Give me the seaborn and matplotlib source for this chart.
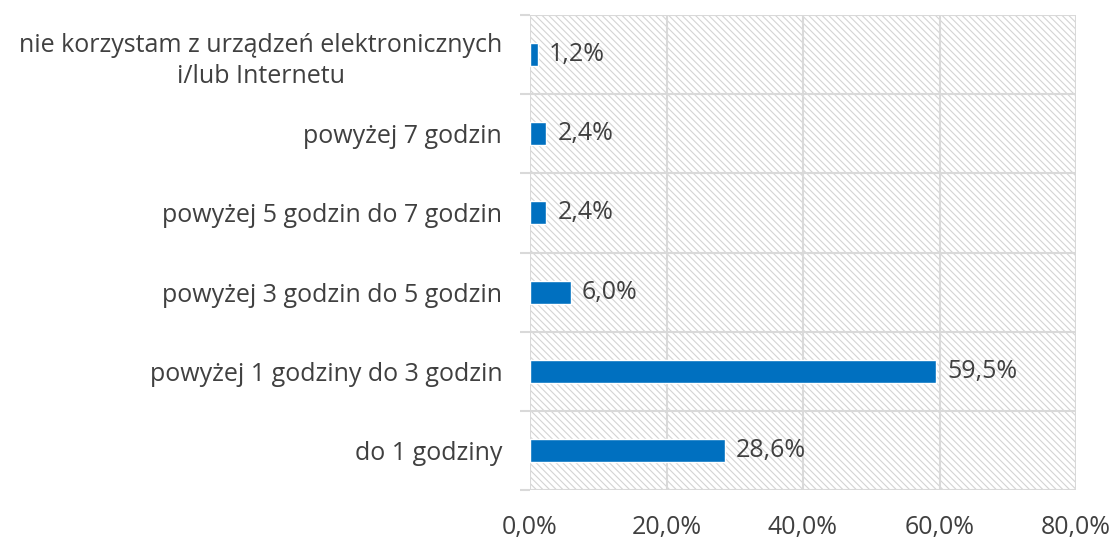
import matplotlib
matplotlib.use("Agg")
import matplotlib.pyplot as plt
import seaborn as sns
import pandas as pd
from matplotlib.patches import Rectangle
from matplotlib.ticker import FuncFormatter

categories = [
    "nie korzystam z urządzeń elektronicznych\ni/lub Internetu",
    "powyżej 7 godzin",
    "powyżej 5 godzin do 7 godzin",
    "powyżej 3 godzin do 5 godzin",
    "powyżej 1 godziny do 3 godzin",
    "do 1 godziny",
]
values = [1.2, 2.4, 2.4, 6.0, 59.5, 28.6]
xticks = [0, 20, 40, 60, 80]

df = pd.DataFrame({"cat": categories, "val": values})

sns.set_style("white")
plt.rcParams["font.family"] = ["Open Sans", "DejaVu Sans"]
plt.rcParams["hatch.linewidth"] = 0.8
plt.rcParams["hatch.color"] = "#d4d4d4"

FS = 18
fig = plt.figure(figsize=(11.18, 5.4), dpi=100)
ax = fig.add_axes([530 / 1118, 50 / 540, 546 / 1118, 475 / 540])

bg = Rectangle((0, 0), 1, 1, transform=ax.transAxes, facecolor="white",
               edgecolor="#d4d4d4", hatch="\\\\\\\\\\", lw=0, zorder=0)
ax.add_patch(bg)

sns.barplot(data=df, x="val", y="cat", orient="h", color="#0070C0",
            width=0.29, ax=ax, zorder=3, saturation=1)

for i, v in enumerate(values):
    ax.text(v + 1.6, i, f"{v:.1f}%".replace(".", ","), va="center", ha="left",
            fontsize=FS, color="#404040", zorder=4)

ax.set_xlim(0, 80)
ax.set_ylim(len(categories) - 0.5, -0.5)
ax.set_xticks(xticks)
ax.xaxis.set_major_formatter(FuncFormatter(lambda x, p: f"{x:.1f}%".replace(".", ",")))
ax.set_xlabel("")
ax.set_ylabel("")

# grid
for x in xticks:
    ax.axvline(x, color="#d9d9d9", lw=1.5, zorder=1)
bounds = [i - 0.5 for i in range(len(categories) + 1)]
for b in bounds:
    ax.axhline(b, color="#d9d9d9", lw=1.5, zorder=1)

ax.set_yticks(bounds, minor=True)
ax.tick_params(axis="y", which="minor", length=7, color="#d9d9d9", width=1.5, left=True)
ax.tick_params(axis="y", which="major", length=0, pad=20, labelsize=FS, labelcolor="#404040")
ax.tick_params(axis="x", length=0, pad=18, labelsize=FS, labelcolor="#404040")
for lab in ax.get_yticklabels():
    lab.set_horizontalalignment("right")
    lab.set_multialignment("center")
    lab.set_linespacing(1.35)

for s in ax.spines.values():
    s.set_visible(False)

fig.savefig("out.png", dpi=100)
